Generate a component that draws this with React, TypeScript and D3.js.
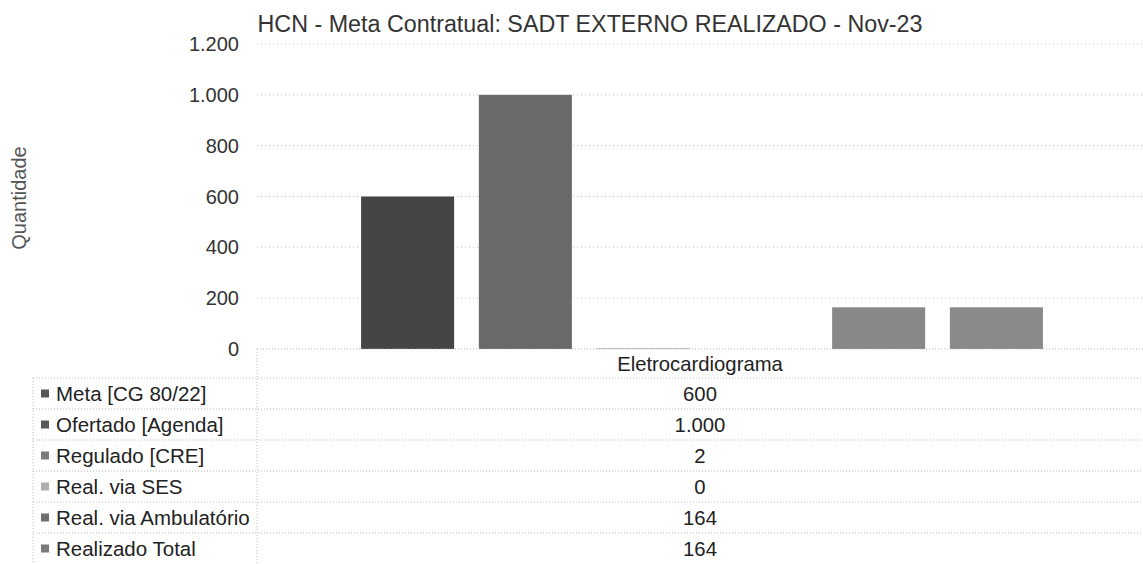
import React from 'react';
import * as d3 from 'd3';

const categories = ['Eletrocardiograma'];
const series = [
  'Meta [CG 80/22]',
  'Ofertado [Agenda]',
  'Regulado [CRE]',
  'Real. via SES',
  'Real. via Ambulatório',
  'Realizado Total',
];
const values = [600, 1000, 2, 0, 164, 164];
const yTicks = [0, 200, 400, 600, 800, 1000, 1200];
const colors = ['#454545', '#6a6a6a', '#7c7c7c', '#b4b4b4', '#888888', '#8a8a8a'];
const keyColors = ['#555555', '#5a5a5a', '#7a7a7a', '#b0b0b0', '#6e6e6e', '#7a7a7a'];

const title = 'HCN - Meta Contratual: SADT EXTERNO REALIZADO - Nov-23';

const ptBR = d3.formatLocale({ decimal: ',', thousands: '.', grouping: [3], currency: ['R$', ''] });
const fmt = ptBR.format(',d');

const W = 1143, H = 564;
const plot = { left: 257, right: 1143, top: 44, bottom: 349 };
const tableLeft = 33;
const rowH = 31;
const font = '"Liberation Sans", Arial, sans-serif';

export default function App() {
  const y = d3.scaleLinear().domain([0, 1200]).range([plot.bottom, plot.top]);
  const xCat = d3.scaleBand().domain(categories).range([plot.left, plot.right]);
  const x = d3.scaleBand()
    .domain(series)
    .range([plot.left + 4, plot.right])
    .paddingInner(0.21)
    .paddingOuter(0.85);

  const headerTop = plot.bottom;
  const headerBottom = headerTop + 29;
  const rowTop = (i: number) => headerBottom + i * rowH;
  const catCenter = xCat(categories[0])! + xCat.bandwidth() / 2;

  return (
    <svg width={W} height={H} style={{ position: 'absolute', left: 0, top: 0, background: '#fff' }}>
      <text x={590} y={32} textAnchor="middle" fontFamily={font} fontSize={23.3} fill="#333">{title}</text>

      <text transform={`translate(26,198) rotate(-90)`} textAnchor="middle" fontFamily={font} fontSize={20} fill="#555">Quantidade</text>

      {yTicks.map(t => (
        <g key={t}>
          {t > 0 && (
            <line x1={plot.left} x2={plot.right} y1={y(t)} y2={y(t)} stroke="#c8c8c8" strokeWidth={1} strokeDasharray="1 3" />
          )}
          <text x={239} y={y(t)} dy="0.35em" textAnchor="end" fontFamily={font} fontSize={20} fill="#333">{fmt(t)}</text>
        </g>
      ))}

      {series.map((s, i) => (
        <rect key={s} x={x(s)} y={y(values[i])} width={x.bandwidth()} height={plot.bottom - y(values[i])} fill={colors[i]} />
      ))}

      {/* data table */}
      <line x1={plot.left} x2={plot.right} y1={headerTop} y2={headerTop} stroke="#b8b8b8" strokeDasharray="1 2" />
      {series.map((s, i) => (
        <line key={'h' + s} x1={tableLeft} x2={plot.right} y1={rowTop(i)} y2={rowTop(i)} stroke="#b8b8b8" strokeDasharray="1 2" />
      ))}
      <line x1={tableLeft} x2={tableLeft} y1={headerBottom} y2={H} stroke="#b8b8b8" strokeDasharray="1 2" />
      <line x1={plot.left} x2={plot.left} y1={headerTop} y2={H} stroke="#b8b8b8" strokeDasharray="1 2" />

      <text x={catCenter} y={(headerTop + headerBottom) / 2} dy="0.35em" textAnchor="middle" fontFamily={font} fontSize={20.3} fill="#222">{categories[0]}</text>

      {series.map((s, i) => {
        const cy = rowTop(i) + rowH / 2;
        return (
          <g key={'r' + s}>
            <rect x={41} y={cy - 4} width={8} height={8} fill={keyColors[i]} />
            <text x={56} y={cy} dy="0.35em" fontFamily={font} fontSize={20.5} fill="#222">{s}</text>
            <text x={catCenter} y={cy} dy="0.35em" textAnchor="middle" fontFamily={font} fontSize={20.3} fill="#222">{fmt(values[i])}</text>
          </g>
        );
      })}
    </svg>
  );
}
